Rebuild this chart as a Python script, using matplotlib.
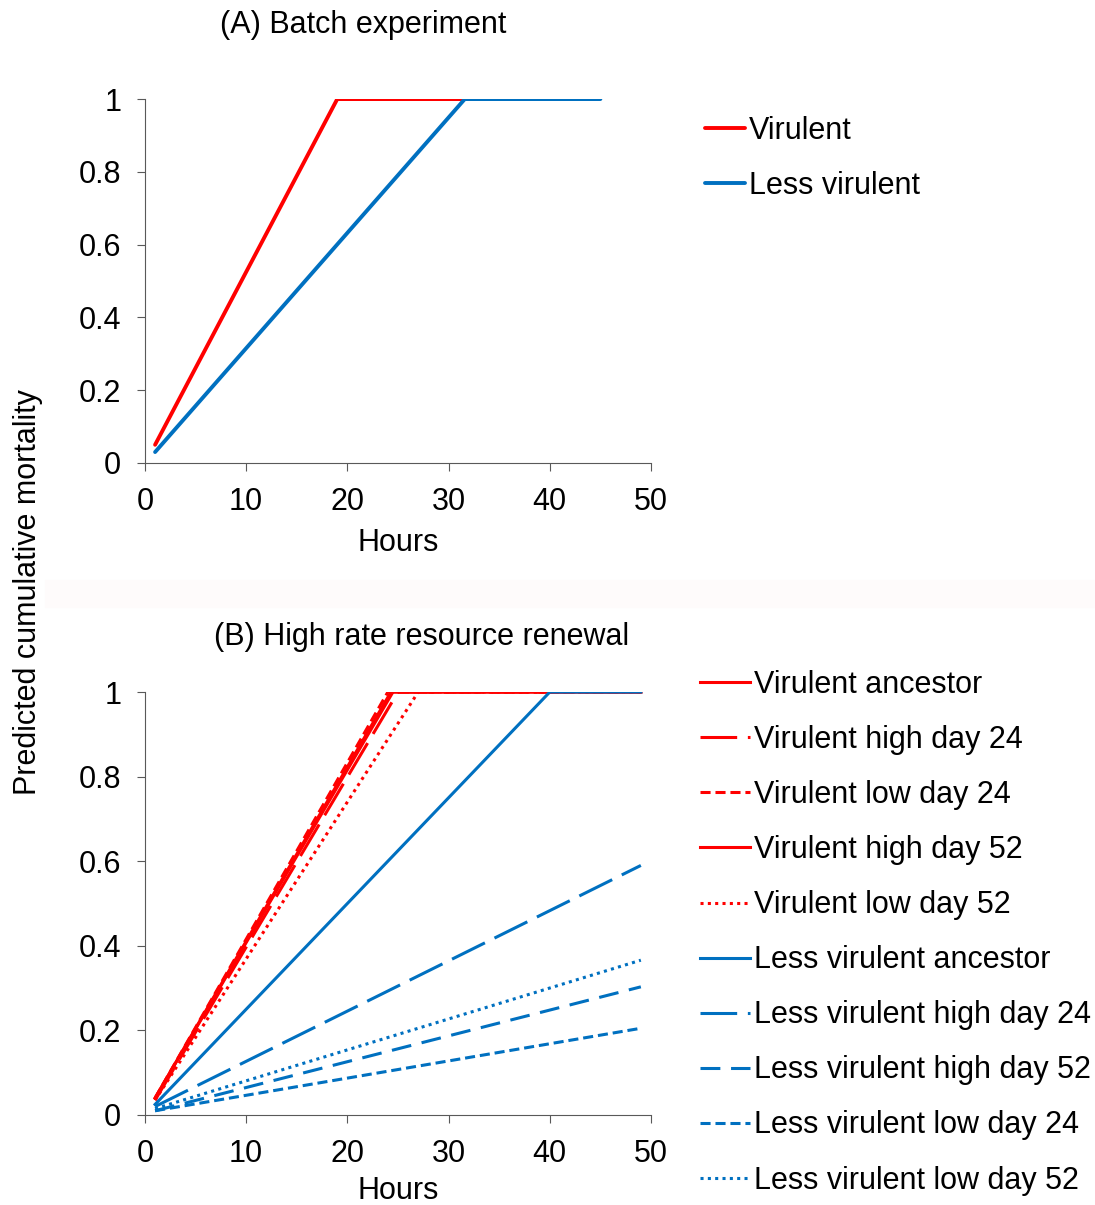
import numpy as np
import matplotlib
matplotlib.use("Agg")
import matplotlib.pyplot as plt
from matplotlib.patches import Rectangle

plt.rcParams['font.family'] = ['Liberation Sans', 'DejaVu Sans']
plt.rcParams['font.size'] = 22

RED = '#ff0000'
BLUE = '#0070c0'
AXIS_GREY = '#595959'

# (A) Batch experiment
a_vir_h = [1, 19, 31.5]
a_vir_m = [0.05, 1.0, 1.0]
a_less_h = [1, 31.6, 45]
a_less_m = [0.03, 1.0, 1.0]

# (B) High rate resource renewal
b_labels = ['Virulent ancestor', 'Virulent high day 24', 'Virulent low day 24',
            'Virulent high day 52', 'Virulent low day 52',
            'Less virulent ancestor', 'Less virulent high day 24',
            'Less virulent high day 52', 'Less virulent low day 24',
            'Less virulent low day 52']
b_hours = [[1, 24.5, 49], [1, 25, 49], [1, 24, 49], [1, 24.3, 49], [1, 27, 49],
           [1, 40, 49], [1, 49], [1, 49], [1, 49], [1, 49]]
b_mort = [[0.04, 1, 1], [0.035, 1, 1], [0.04, 1, 1], [0.04, 1, 1], [0.035, 1, 1],
          [0.025, 1, 1], [0.02, 0.59], [0.01, 0.303], [0.01, 0.205], [0.015, 0.366]]

b_colors = [RED] * 5 + [BLUE] * 5
long_dash = (0, (12, 3.5))
dash = (0, (6.5, 3.5))
short_dash = (0, (3.3, 1.6))
dot = (0, (1, 1.4))
b_styles = ['-', long_dash, short_dash, '-', dot,
            '-', long_dash, dash, short_dash, dot]

fig = plt.figure(figsize=(10.95, 12.05), dpi=100)
# faint band between the two panels
fig.patches.append(Rectangle((45 / 1095, 1 - 607 / 1205), 1 - 45 / 1095, 27 / 1205,
                             transform=fig.transFigure, color='#fefbfb', zorder=-1))

axA = fig.add_axes([0.1324, 0.6158, 0.4621, 0.302])
axB = fig.add_axes([0.1324, 0.0747, 0.4621, 0.351])

axA.plot(a_vir_h, a_vir_m, color=RED, lw=2.8, label='Virulent', solid_capstyle='round')
axA.plot(a_less_h, a_less_m, color=BLUE, lw=2.8, label='Less virulent', solid_capstyle='round')

for h, m, c, s, lab in zip(b_hours, b_mort, b_colors, b_styles, b_labels):
    axB.plot(h, m, color=c, ls=s, lw=2.2, label=lab)

for ax in (axA, axB):
    ax.set_xlim(0, 50)
    ax.set_ylim(0, 1)
    ax.set_xticks([0, 10, 20, 30, 40, 50])
    ax.set_yticks([0, 0.2, 0.4, 0.6, 0.8, 1])
    ax.set_yticklabels(['0', '0.2', '0.4', '0.6', '0.8', '1'])
    ax.spines['top'].set_visible(False)
    ax.spines['right'].set_visible(False)
    ax.spines['left'].set_color(AXIS_GREY)
    ax.spines['bottom'].set_color(AXIS_GREY)
    ax.tick_params(direction='out', length=6, color=AXIS_GREY, labelsize=22, pad=11)
    ax.patch.set_alpha(0)

axA.set_xlabel('Hours', fontsize=22, labelpad=8)
axB.set_xlabel('Hours', fontsize=22, labelpad=5)

fig.text(363 / 1095, 1 - 25 / 1205, '(A) Batch experiment', ha='center', va='center', fontsize=22)
fig.text(422 / 1095, 1 - 637 / 1205, '(B) High rate resource renewal', ha='center', va='center', fontsize=22)
fig.text(28 / 1095, 1 - 592 / 1205, 'Predicted cumulative mortality', rotation=90,
         ha='center', va='center', fontsize=22)

axA.legend(loc='upper left', bbox_to_anchor=(705 / 1095, 1 - 116 / 1205),
           bbox_transform=fig.transFigure, frameon=False, handlelength=1.3,
           handletextpad=0.15, labelspacing=0.82, borderpad=0, borderaxespad=0)
axB.legend(loc='upper left', bbox_to_anchor=(700 / 1095, 1 - 670 / 1205),
           bbox_transform=fig.transFigure, frameon=False, handlelength=1.63,
           handletextpad=0.15, labelspacing=0.82, borderpad=0, borderaxespad=0)

plt.savefig('out.png', dpi=100)
